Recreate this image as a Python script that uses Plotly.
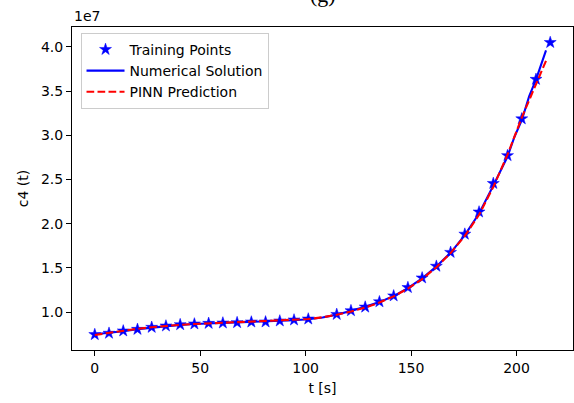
import plotly.graph_objects as go

# Training samples (time in s, concentration c4)
t_train = [0, 6.75, 13.5, 20.25, 27, 33.75, 40.5, 47.25, 54, 60.75, 67.5, 74.25,
           81, 87.75, 94.5, 101.25, 114.75, 121.5, 128.25, 135, 141.75, 148.5,
           155.25, 162, 168.75, 175.5, 182.25, 189, 195.75, 202.5, 209.25, 216]
c4_train = [0.745e7, 0.760e7, 0.786e7, 0.804e7, 0.827e7, 0.842e7, 0.857e7, 0.865e7,
            0.872e7, 0.876e7, 0.880e7, 0.887e7, 0.888e7, 0.899e7, 0.910e7, 0.921e7,
            0.973e7, 1.015e7, 1.056e7, 1.116e7, 1.183e7, 1.277e7, 1.386e7, 1.518e7,
            1.675e7, 1.881e7, 2.132e7, 2.455e7, 2.770e7, 3.186e7, 3.633e7, 4.050e7]

# Numerical solution
t_num = [0, 6.75, 13.5, 20.25, 27, 33.75, 40.5, 47.25, 54, 60.75, 67.5, 74.25,
         81, 87.75, 94.5, 101.25, 108, 114.75, 121.5, 128.25, 135, 141.75, 148.5,
         155.25, 162, 168.75, 175.5, 182.25, 189, 195.75, 199, 202.5, 206, 209.25, 214]
c4_num = [0.748e7, 0.762e7, 0.783e7, 0.806e7, 0.824e7, 0.840e7, 0.854e7, 0.864e7,
          0.870e7, 0.876e7, 0.881e7, 0.886e7, 0.891e7, 0.898e7, 0.907e7, 0.918e7,
          0.938e7, 0.970e7, 1.010e7, 1.058e7, 1.112e7, 1.180e7, 1.270e7, 1.380e7,
          1.515e7, 1.670e7, 1.870e7, 2.115e7, 2.430e7, 2.760e7, 2.980e7, 3.170e7,
          3.440e7, 3.630e7, 3.960e7]

# PINN prediction
t_pinn = [0, 6.75, 13.5, 20.25, 27, 33.75, 40.5, 47.25, 54, 60.75, 67.5, 74.25,
          81, 87.75, 94.5, 101.25, 108, 114.75, 121.5, 128.25, 135, 141.75, 148.5,
          155.25, 162, 168.75, 175.5, 182.25, 189, 195.75, 202.5, 209.25, 214.5]
c4_pinn = [0.740e7, 0.765e7, 0.789e7, 0.810e7, 0.828e7, 0.843e7, 0.855e7, 0.864e7,
           0.871e7, 0.876e7, 0.880e7, 0.885e7, 0.891e7, 0.898e7, 0.908e7, 0.920e7,
           0.940e7, 0.968e7, 1.005e7, 1.050e7, 1.107e7, 1.177e7, 1.265e7, 1.373e7,
           1.507e7, 1.667e7, 1.862e7, 2.100e7, 2.415e7, 2.780e7, 3.200e7, 3.570e7,
           3.870e7]

x_ticks = [0, 50, 100, 150, 200]
y_ticks = [1.0e7, 1.5e7, 2.0e7, 2.5e7, 3.0e7, 3.5e7, 4.0e7]
y_tick_text = ["1.0", "1.5", "2.0", "2.5", "3.0", "3.5", "4.0"]

FONT = "DejaVu Sans"

fig = go.Figure()
fig.add_trace(go.Scatter(
    x=t_train, y=c4_train, mode="markers", name="Training Points",
    marker=dict(symbol="star", size=9, color="#0000ff",
                line=dict(width=0.5, color="#0000ff")),
))
fig.add_trace(go.Scatter(
    x=t_num, y=c4_num, mode="lines", name="Numerical Solution",
    line=dict(color="#0000ff", width=2.1),
))
fig.add_trace(go.Scatter(
    x=t_pinn, y=c4_pinn, mode="lines", name="PINN Prediction",
    line=dict(color="#ff0000", width=2.1, dash="7.7px,3.3px"),
))

axis_common = dict(
    showline=True, linecolor="black", linewidth=1.1, mirror=True,
    ticks="outside", ticklen=5, tickwidth=1.1, tickcolor="black",
    showgrid=False, zeroline=False,
    tickfont=dict(family=FONT, size=14, color="black"),
)

fig.update_xaxes(
    range=[-10.8, 226.8], tickvals=x_ticks,
    title=dict(text="t [s]", font=dict(family=FONT, size=14, color="black"), standoff=8),
    **axis_common,
)
fig.update_yaxes(
    range=[0.57e7, 4.225e7], tickvals=y_ticks, ticktext=y_tick_text,
    title=dict(text="c4 (t)", font=dict(family=FONT, size=14, color="black"), standoff=8),
    **axis_common,
)

fig.update_layout(
    width=574, height=403,
    margin=dict(l=72, r=1, t=27, b=53),
    paper_bgcolor="white", plot_bgcolor="white",
    font=dict(family=FONT, size=14, color="black"),
    showlegend=True,
    legend=dict(
        x=0.017, y=0.982, xanchor="left", yanchor="top",
        bgcolor="rgba(255,255,255,0.8)", bordercolor="#cccccc", borderwidth=1,
        font=dict(family=FONT, size=14, color="black"),
        tracegroupgap=0, itemwidth=38,
    ),
    annotations=[
        dict(text="1e7", xref="paper", yref="paper", x=0, y=1.004,
             xanchor="left", yanchor="bottom", showarrow=False,
             font=dict(family=FONT, size=14, color="black")),
        dict(text="(g)", xref="paper", yref="paper", x=0.5, y=1.056,
             xanchor="center", yanchor="bottom", showarrow=False,
             font=dict(family="Liberation Serif", size=22, color="black")),
    ],
)

fig.write_html("out.html")
